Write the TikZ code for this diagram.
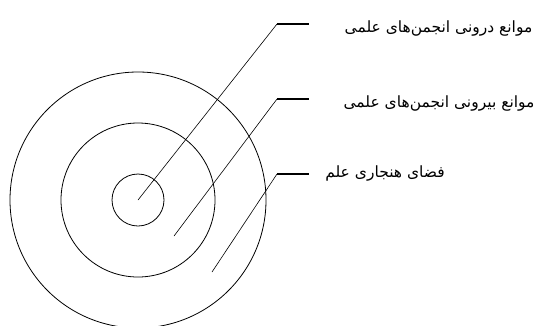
\documentclass[tikz,border=0pt]{standalone}
\usepackage{fontspec}
\newfontfamily\arabicfont[Script=Arabic]{DejaVu Sans}
\TeXXeTstate=1
\begin{document}
\begin{tikzpicture}[x=1pt,y=-1pt,
  ring/.style={draw=black,line width=0.8pt},
  leader/.style={draw=black,line width=0.6pt},
  shelf/.style={draw=black,line width=1.3pt},
  lbl/.style={font=\arabicfont\fontsize{15.5}{17}\selectfont,inner sep=0pt}]
\useasboundingbox (0,0) rectangle (540,325);
\coordinate (c) at (138,200);
\draw[ring] (c) circle[radius=26];
\draw[ring] (c) circle[radius=77];
\draw[ring] (c) circle[radius=128];
\coordinate (s1) at (138,200);
\coordinate (s2) at (174,236);
\coordinate (s3) at (212,272);
\coordinate (e1) at (277,24);
\coordinate (e2) at (277,99);
\coordinate (e3) at (277,174);
\coordinate (f1) at (309,24);
\coordinate (f2) at (309,99);
\coordinate (f3) at (309,174);
\draw[leader] (s1) -- (e1);
\draw[leader] (s2) -- (e2);
\draw[leader] (s3) -- (e3);
\draw[shelf] (e1) -- (f1);
\draw[shelf] (e2) -- (f2);
\draw[shelf] (e3) -- (f3);
\node[lbl] (t1) at (438.5,28) {\beginR موانع درونی انجمن‌های علمی\endR};
\node[lbl] (t2) at (439,103) {\beginR موانع بیرونی انجمن‌های علمی\endR};
\node[lbl] (t3) at (385,173) {\beginR فضای هنجاری علم\endR};
\end{tikzpicture}
\end{document}
